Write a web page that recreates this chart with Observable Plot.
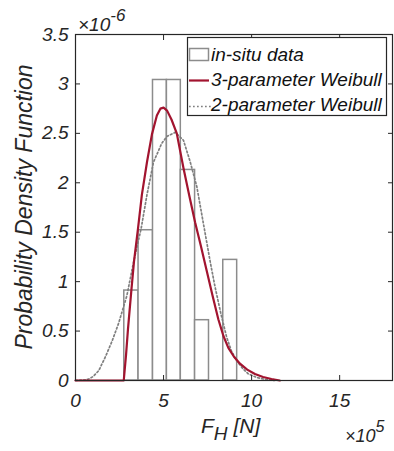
<!DOCTYPE html>
<html><head><meta charset="utf-8">
<script src="https://cdn.jsdelivr.net/npm/d3@7"></script>
<script src="https://cdn.jsdelivr.net/npm/@observablehq/plot@0.6"></script>
<style>
body{margin:0;background:#fff;}
#chart{position:relative;width:394px;height:451px;}
</style></head><body><div id="chart"></div>
<script>
// Histogram of in-situ data (x in 1e5 N, density in 1e-6 1/N)
const binEdges = [2.77, 3.58, 4.40, 5.19, 5.98, 6.79, 7.58, 8.39, 9.18];
const binDensity = [0.91, 1.52, 3.04, 3.04, 2.13, 0.61, 0, 1.22];

// 3-parameter Weibull fit
const weibull3X = [0, 2.74, 2.87, 2.98, 3.17, 3.32, 3.55, 3.77, 4.06, 4.34, 4.62, 4.82, 5.0, 5.2, 5.45, 5.75, 6.13, 6.45, 6.79, 7.12, 7.45, 7.78, 8.11, 8.4, 8.68, 9.0, 9.34, 9.75, 10.19, 10.65, 11.13, 11.6];
const weibull3Y = [0, 0, 0.26, 0.52, 0.91, 1.20, 1.54, 1.88, 2.21, 2.49, 2.68, 2.75, 2.76, 2.73, 2.64, 2.50, 2.15, 1.88, 1.60, 1.36, 1.11, 0.86, 0.62, 0.45, 0.33, 0.24, 0.17, 0.11, 0.065, 0.035, 0.015, 0];

// 2-parameter Weibull fit
const weibull2X = [0, 0.5, 0.75, 1.0, 1.32, 1.70, 2.08, 2.45, 2.92, 3.30, 3.73, 4.06, 4.43, 4.9, 5.2, 5.66, 6.13, 6.5, 6.89, 7.15, 7.40, 7.65, 7.92, 8.25, 8.58, 8.85, 9.15, 9.5, 9.81, 10.3, 10.8, 11.3];
const weibull2Y = [0, 0.005, 0.015, 0.04, 0.10, 0.24, 0.40, 0.58, 0.86, 1.20, 1.54, 1.88, 2.21, 2.40, 2.47, 2.51, 2.43, 2.22, 1.96, 1.70, 1.45, 1.20, 0.95, 0.68, 0.44, 0.30, 0.20, 0.12, 0.068, 0.03, 0.01, 0];

const xTicks = [0, 5, 10, 15];
const xTickLabels = ["0", "5", "10", "15"];
const yTicks = [0, 0.5, 1, 1.5, 2, 2.5, 3, 3.5];
const yTickLabels = ["0", "0.5", "1", "1.5", "2", "2.5", "3", "3.5"];
const legendLabels = ["in-situ data", "3-parameter Weibull", "2-parameter Weibull"];

const bins = binDensity.map((d, i) => ({x1: binEdges[i], x2: binEdges[i + 1], y: d}));
const w3 = weibull3X.map((x, i) => ({x, y: weibull3Y[i]}));
const w2 = weibull2X.map((x, i) => ({x, y: weibull2Y[i]}));

const axisCol = "#262626";
const red = "#a2142f";
const grayEdge = "#8c8c8c";
const FONT = "'Liberation Sans', Arial, Helvetica, sans-serif";

const plot = Plot.plot({
  width: 394, height: 451,
  marginLeft: 75, marginRight: 2, marginTop: 34, marginBottom: 71,
  x: {domain: [0, 18]},
  y: {domain: [0, 3.5]},
  style: {fontFamily: FONT, fontStyle: "italic", fontSize: "19px", color: axisCol, background: "#fff", overflow: "visible"},
  marks: [
    Plot.rectY(bins, {x1: "x1", x2: "x2", y: "y", fill: "white", stroke: grayEdge, strokeWidth: 1.5}),
    Plot.line(w2, {x: "x", y: "y", stroke: "#7f7f7f", strokeWidth: 1.7, strokeDasharray: "1.7,2.3"}),
    Plot.line(w3, {x: "x", y: "y", stroke: red, strokeWidth: 2.2}),
    Plot.frame({stroke: axisCol, strokeWidth: 1.2}),
    Plot.axisX({ticks: xTicks, tickSize: -5, text: null, label: null, stroke: axisCol}),
    Plot.axisX({anchor: "top", ticks: xTicks, tickSize: -5, text: null, label: null, stroke: axisCol}),
    Plot.axisY({ticks: yTicks, tickSize: -5, text: null, label: null, stroke: axisCol}),
    Plot.axisY({anchor: "right", ticks: yTicks, tickSize: -5, text: null, label: null, stroke: axisCol}),
    Plot.axisX({ticks: xTicks, tickSize: 0, tickPadding: 13, label: null, fill: axisCol, fontSize: 19,
      tickFormat: d => xTickLabels[xTicks.indexOf(d)]}),
    Plot.axisY({ticks: yTicks, tickSize: 0, tickPadding: 7, label: null, fill: axisCol, fontSize: 19,
      tickFormat: d => yTickLabels[yTicks.indexOf(d)]})
  ]
});
document.getElementById("chart").appendChild(plot);

const svg = d3.select(plot);
const txt = (x, y, size) => svg.append("text").attr("x", x).attr("y", y).attr("text-anchor", "start")
  .attr("font-family", FONT).attr("font-style", "italic").attr("font-size", size).attr("fill", axisCol);

// exponent labels
const e6 = txt(78, 31, 19);
e6.append("tspan").text("\u00d710");
e6.append("tspan").attr("font-size", 17).attr("dy", -10).text("-6");
const e5 = txt(345, 442, 18);
e5.append("tspan").text("\u00d710");
e5.append("tspan").attr("font-size", 16).attr("dy", -10).text("5");

// axis titles
svg.append("text").attr("transform", "translate(32,207) rotate(-90)").attr("text-anchor", "middle")
  .attr("font-family", FONT).attr("font-style", "italic").attr("font-size", 23).attr("fill", axisCol)
  .text("Probability Density Function");
const xt = txt(201, 433, 21);
xt.append("tspan").text("F");
xt.append("tspan").attr("dy", 7).attr("font-size", 19).text("H");
xt.append("tspan").attr("dy", -7).text(" [N]");

// legend
const lg = svg.append("g");
lg.append("rect").attr("x", 187.5).attr("y", 37.5).attr("width", 199).attr("height", 78)
  .attr("fill", "white").attr("stroke", axisCol).attr("stroke-width", 1.2);
lg.append("rect").attr("x", 189.5).attr("y", 48.5).attr("width", 19).attr("height", 12)
  .attr("fill", "white").attr("stroke", grayEdge).attr("stroke-width", 1.5);
lg.append("line").attr("x1", 189).attr("x2", 209).attr("y1", 80.5).attr("y2", 80.5)
  .attr("stroke", red).attr("stroke-width", 2.2);
lg.append("line").attr("x1", 189).attr("x2", 211).attr("y1", 106.5).attr("y2", 106.5)
  .attr("stroke", "#7f7f7f").attr("stroke-width", 1.7).attr("stroke-dasharray", "1.7,2.3");
const baselines = [60.5, 86, 111];
legendLabels.forEach((l, i) => {
  lg.append("text").attr("x", 211).attr("y", baselines[i]).attr("text-anchor", "start").attr("font-family", FONT)
    .attr("font-style", "italic").attr("font-size", 19).attr("fill", "#111").text(l);
});
</script></body></html>
